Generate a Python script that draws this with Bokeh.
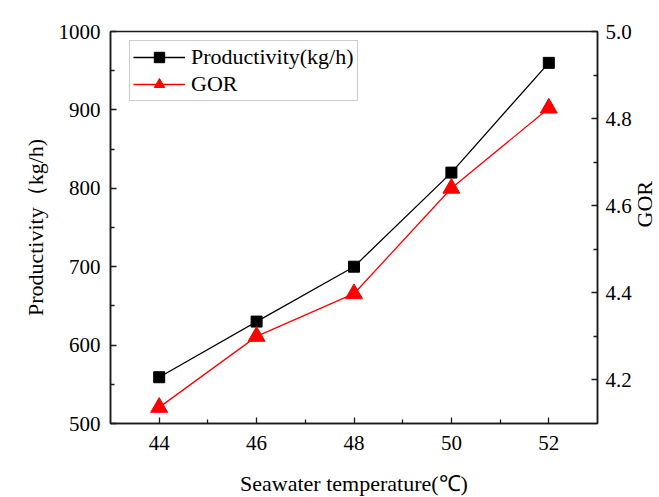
import math
from bokeh.plotting import figure
from bokeh.models import (Range1d, LinearAxis, FixedTicker, LegendItem, Legend,
                          ColumnDataSource, CustomJSTickFormatter)
from bokeh.embed import file_html
from bokeh.resources import INLINE

temperature = [44, 46, 48, 50, 52]
productivity = [559, 630, 700, 820, 960]
gor = [4.137, 4.30, 4.398, 4.64, 4.824]

x_ticks = [44, 46, 48, 50, 52]
x_minor = [45, 47, 49, 51]
y_ticks = [500, 600, 700, 800, 900, 1000]
y_minor = [550, 650, 750, 850, 950]
gor_ticks = [4.2, 4.4, 4.6, 4.8, 5.0]
gor_minor = [4.3, 4.5, 4.7, 4.9]

FONT = "Liberation Serif"

p = figure(frame_width=487, frame_height=392, output_backend="svg", toolbar_location=None,
           x_range=Range1d(43, 53), y_range=Range1d(500, 1000),
           min_border_left=110, min_border_right=50, min_border_top=31,
           min_border_bottom=74)
p.extra_y_ranges = {"gor": Range1d(4.1, 5.0)}
p.background_fill_color = "white"
p.border_fill_color = "white"
p.grid.visible = False
p.outline_line_color = "#1a1a1a"
p.outline_line_width = 1.5

src = ColumnDataSource(dict(t=temperature, prod=productivity, gor=gor))

l1 = p.line("t", "prod", source=src, line_color="black", line_width=1.3)
s1 = p.scatter("t", "prod", source=src, marker="square", size=11,
               fill_color="black", line_color="black")
l2 = p.line("t", "gor", source=src, y_range_name="gor", line_color="#ff0000", line_width=1.3)
s2 = p.scatter("t", "gor", source=src, y_range_name="gor", marker="triangle", size=17,
               fill_color="#ff0000", line_color="#ff0000")

right = LinearAxis(y_range_name="gor", axis_label="GOR")
p.add_layout(right, "right")

p.xaxis.ticker = FixedTicker(ticks=x_ticks, minor_ticks=x_minor)
p.yaxis[0].ticker = FixedTicker(ticks=y_ticks, minor_ticks=y_minor)
right.ticker = FixedTicker(ticks=gor_ticks, minor_ticks=gor_minor)
right.formatter = CustomJSTickFormatter(code="return tick.toFixed(1);")

p.xaxis.axis_label = "Seawater temperature(\u2103)"
p.yaxis[0].axis_label = "Productivity\uff08kg/h)"

for ax in p.axis:
    ax.axis_line_color = "#1a1a1a"
    ax.axis_line_width = 1.5
    ax.major_tick_line_color = "#1a1a1a"
    ax.minor_tick_line_color = "#1a1a1a"
    ax.major_tick_line_width = 1.3
    ax.minor_tick_line_width = 1.3
    ax.major_tick_in = 6
    ax.major_tick_out = 0
    ax.minor_tick_in = 4
    ax.minor_tick_out = 0
    ax.major_label_text_font = FONT
    ax.major_label_text_font_size = "21px"
    ax.major_label_text_color = "black"
    ax.axis_label_text_font = FONT
    ax.axis_label_text_font_size = "22px"
    ax.axis_label_text_font_style = "normal"
    ax.axis_label_text_color = "black"

p.xaxis.major_label_standoff = 12
p.xaxis.axis_label_standoff = 18
p.yaxis[0].major_label_standoff = 10
p.yaxis[0].axis_label_standoff = 8
right.major_label_standoff = 8
right.axis_label_standoff = 10
right.axis_label_orientation = math.pi / 2

legend = Legend(items=[LegendItem(label="Productivity(kg/h)", renderers=[l1, s1]),
                       LegendItem(label="GOR", renderers=[l2, s2])],
                location=(19, 322))
legend.label_text_font = FONT
legend.label_text_font_size = "22px"
legend.label_text_color = "black"
legend.glyph_width = 52
legend.glyph_height = 26
legend.label_height = 26
legend.spacing = 1
legend.padding = 3
legend.margin = 0
legend.label_standoff = 6
legend.border_line_color = "#999999"
legend.border_line_width = 1
legend.background_fill_alpha = 1
p.add_layout(legend)

open("out.html", "w").write(file_html(p, INLINE))
